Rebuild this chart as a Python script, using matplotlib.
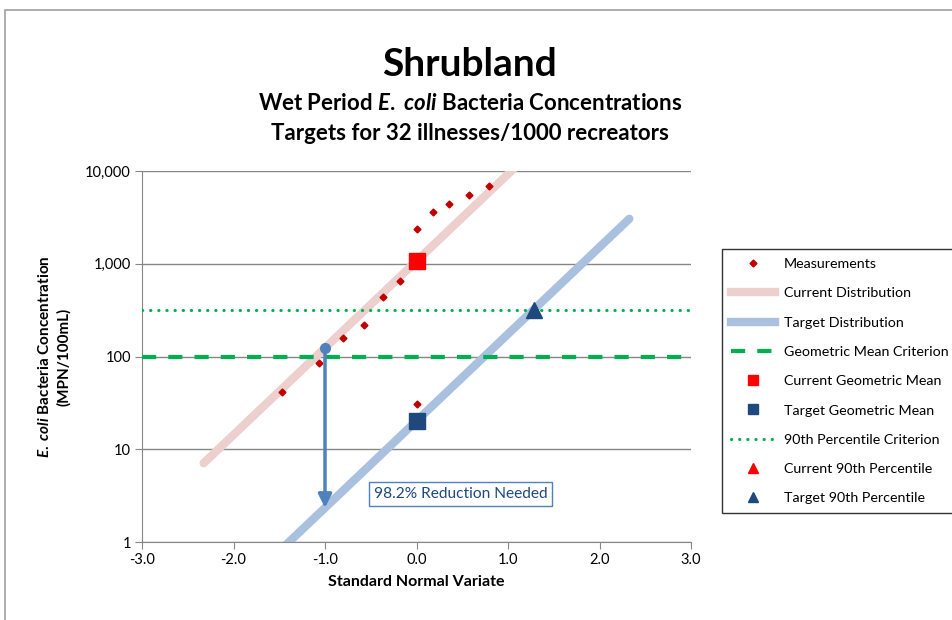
import numpy as np
import matplotlib
matplotlib.use("Agg")
import matplotlib.pyplot as plt
from matplotlib.lines import Line2D
from matplotlib.patches import Rectangle
from matplotlib.ticker import FixedLocator, FuncFormatter

plt.rcParams['font.family'] = ['Lato', 'DejaVu Sans']
plt.rcParams['mathtext.fontset'] = 'custom'
plt.rcParams['mathtext.it'] = 'Lato:italic:bold'
plt.rcParams['mathtext.rm'] = 'Lato:bold'
plt.rcParams['mathtext.bf'] = 'Lato:bold'

# measured concentrations (MPN/100mL) vs standard normal variate
meas_z = [-1.47, -1.07, -0.80, -0.57, -0.37, -0.18, 0.0, 0.0, 0.18, 0.36, 0.57, 0.79]
meas_val = [41, 85, 158, 217, 438, 647, 31, 2370, 3640, 4380, 5470, 6890]

# distribution parameters (geometric mean, log10 standard deviation)
current_gm = 1070
target_gm = 20.2
log_sd = 0.937
dist_z = [-2.326, 2.326]

gm_criterion = 100
p90_criterion = 320
p90_z = 1.2816

# reduction arrow
arrow_z = -1.0
reduction_label = "98.2% Reduction Needed"

x_ticks = [-3.0, -2.0, -1.0, 0.0, 1.0, 2.0, 3.0]
y_ticks = [1, 10, 100, 1000, 10000]

pink = '#EDCFCE'
lightblue = '#A9C1DF'
green = '#00B050'
darkblue = '#1F497D'
red = '#FF0000'
dash_gm = (3.4, 2.9)
dot_p90 = (0, (0.05, 2.5))

fig = plt.figure(figsize=(9.52, 6.2), dpi=100)
ax = fig.add_axes([142 / 952, 1 - 542 / 620, 549 / 952, 371 / 620])

# outer chart border (only top/left visible)
fig.patches.append(Rectangle((5 / 952, -0.2), 1.2, 1.2 - 10 / 620,
                             transform=fig.transFigure, fill=False,
                             edgecolor='#A0A0A0', linewidth=1.2))

dz = np.array(dist_z)
current_line = current_gm * 10 ** (log_sd * dz)
target_line = target_gm * 10 ** (log_sd * dz)

ax.axhline(gm_criterion, color=green, linewidth=3, dashes=dash_gm, zorder=3)
ax.axhline(p90_criterion, color=green, linewidth=2.3, linestyle=dot_p90,
           dash_capstyle='round', zorder=3)
ax.plot(dz, current_line, color=pink, linewidth=6, solid_capstyle='round', zorder=2)
ax.plot(dz, target_line, color=lightblue, linewidth=6, solid_capstyle='round', zorder=2)

ax.plot(meas_z, meas_val, linestyle='none', marker='D', markersize=3.5,
        color='#C00000', zorder=5)
ax.plot([0], [current_gm], linestyle='none', marker='s', markersize=11, color=red, zorder=6)
ax.plot([0], [target_gm], linestyle='none', marker='s', markersize=11, color=darkblue, zorder=6)
ax.plot([p90_z], [current_gm * 10 ** (log_sd * p90_z)], linestyle='none', marker='^',
        markersize=12, color=red, zorder=6)
ax.plot([p90_z], [target_gm * 10 ** (log_sd * p90_z)], linestyle='none', marker='^',
        markersize=12, color=darkblue, zorder=6)

# reduction arrow
start = current_gm * 10 ** (log_sd * arrow_z)
end = target_gm * 10 ** (log_sd * arrow_z)
ax.annotate('', xy=(arrow_z, end), xytext=(arrow_z, start),
            arrowprops=dict(arrowstyle='-|>', color='#4F81BD', lw=2.5,
                            mutation_scale=20, shrinkA=0, shrinkB=0), zorder=7)
ax.plot([arrow_z], [start], marker='o', markersize=7, color='#4F81BD', zorder=7)
ax.text(0.48, 3.3, reduction_label, ha='center', va='center', fontsize=11.2,
        color=darkblue, zorder=8,
        bbox=dict(boxstyle='square,pad=0.3', facecolor='white', edgecolor='#4F81BD', linewidth=1))

ax.set_yscale('log')
ax.set_xlim(-3, 3)
ax.set_ylim(1, 10000)
ax.xaxis.set_major_locator(FixedLocator(x_ticks))
ax.xaxis.set_major_formatter(FuncFormatter(lambda v, p: f'{v:.1f}'))
ax.yaxis.set_major_locator(FixedLocator(y_ticks))
ax.yaxis.set_major_formatter(FuncFormatter(lambda v, p: f'{v:,.0f}'))
ax.yaxis.set_minor_locator(FixedLocator([]))
ax.grid(axis='y', color='#868686', linewidth=1)
ax.set_axisbelow(True)
for s in ['top', 'right']:
    ax.spines[s].set_visible(False)
for s in ['left', 'bottom']:
    ax.spines[s].set_color('#868686')
ax.tick_params(axis='both', color='#868686', length=5, labelsize=10.5, pad=3)

ax.set_xlabel('Standard Normal Variate', fontsize=11.5, fontweight='bold', labelpad=6)
ax.set_ylabel('$E.$ $coli$ Bacteria Concentration\n(MPN/100mL)', fontsize=11,
              fontweight='bold', labelpad=10, linespacing=1.4)

fig.text(470 / 952, 1 - 64 / 620, 'Shrubland', ha='center', va='center',
         fontsize=28, fontweight='bold')
fig.text(470 / 952, 1 - 103 / 620, 'Wet Period $E.$ $coli$ Bacteria Concentrations',
         ha='center', va='center', fontsize=16, fontweight='bold')
fig.text(470 / 952, 1 - 133 / 620, 'Targets for 32 illnesses/1000 recreators',
         ha='center', va='center', fontsize=16, fontweight='bold')

handles = [
    Line2D([], [], linestyle='none', marker='D', markersize=3.5, color='#C00000'),
    Line2D([], [], color=pink, linewidth=6),
    Line2D([], [], color=lightblue, linewidth=6),
    Line2D([], [], color=green, linewidth=3, dashes=dash_gm),
    Line2D([], [], linestyle='none', marker='s', markersize=7, color=red),
    Line2D([], [], linestyle='none', marker='s', markersize=7, color=darkblue),
    Line2D([], [], color=green, linewidth=2.3, linestyle=dot_p90, dash_capstyle='round'),
    Line2D([], [], linestyle='none', marker='^', markersize=7, color=red),
    Line2D([], [], linestyle='none', marker='^', markersize=7, color=darkblue),
]
labels = ['Measurements', 'Current Distribution', 'Target Distribution',
          'Geometric Mean Criterion', 'Current Geometric Mean', 'Target Geometric Mean',
          '90th Percentile Criterion', 'Current 90th Percentile', 'Target 90th Percentile']
leg = fig.legend(handles, labels, loc='upper left', bbox_to_anchor=(722 / 952, 1 - 249 / 620),
                 fontsize=10.3, frameon=True, fancybox=False, edgecolor='black',
                 handlelength=3.1, handletextpad=0.6, labelspacing=1.21, borderpad=0.62,
                 borderaxespad=0)
leg.get_frame().set_linewidth(1)

plt.savefig('out.png', dpi=100)
